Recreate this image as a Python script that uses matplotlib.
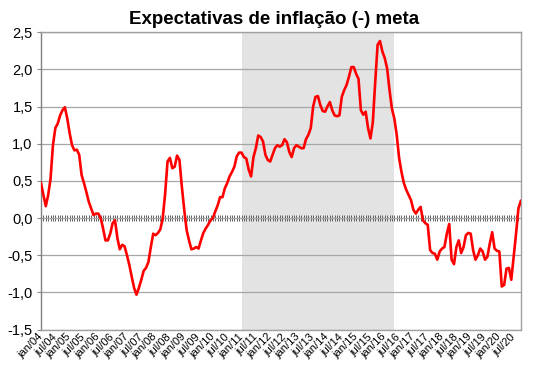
import numpy as np
import matplotlib
matplotlib.use("Agg")
import matplotlib.pyplot as plt
import matplotlib.transforms as mtransforms

plt.rcParams["font.family"] = ["Liberation Sans", "DejaVu Sans"]

# monthly categories jan/04 .. oct/20
month_abbr = ["jan", "fev", "mar", "abr", "mai", "jun",
              "jul", "ago", "set", "out", "nov", "dez"]
months = [f"{m}/{y:02d}" for y in range(4, 21) for m in month_abbr][:202]

# expectations minus target (p.p.)
gap = [
    0.47, 0.31, 0.16, 0.31, 0.53, 0.98, 1.21, 1.27, 1.38, 1.45, 1.49, 1.34,
    1.14, 0.98, 0.91, 0.92, 0.85, 0.58, 0.47, 0.35, 0.22, 0.13, 0.04, 0.06,
    0.06, 0.00, -0.14, -0.30, -0.30, -0.21, -0.07, -0.03, -0.27, -0.42, -0.36, -0.38,
    -0.50, -0.63, -0.79, -0.94, -1.03, -0.94, -0.83, -0.71, -0.67, -0.59, -0.39, -0.21,
    -0.23, -0.20, -0.15, 0.00, 0.33, 0.76, 0.81, 0.67, 0.69, 0.84, 0.78, 0.42,
    0.11, -0.16, -0.30, -0.42, -0.41, -0.39, -0.41, -0.30, -0.20, -0.14, -0.09, -0.03,
    0.00, 0.09, 0.17, 0.28, 0.28, 0.40, 0.47, 0.56, 0.62, 0.69, 0.83, 0.88,
    0.88, 0.82, 0.80, 0.65, 0.56, 0.82, 0.94, 1.11, 1.09, 1.03, 0.85, 0.78,
    0.76, 0.85, 0.94, 0.98, 0.96, 0.98, 1.06, 1.02, 0.89, 0.82, 0.94, 0.98,
    0.96, 0.94, 0.94, 1.06, 1.12, 1.21, 1.50, 1.63, 1.64, 1.52, 1.44, 1.43,
    1.50, 1.56, 1.45, 1.38, 1.37, 1.38, 1.63, 1.72, 1.79, 1.90, 2.03, 2.03,
    1.94, 1.87, 1.45, 1.39, 1.43, 1.21, 1.07, 1.29, 1.83, 2.33, 2.38, 2.24,
    2.15, 2.01, 1.72, 1.47, 1.34, 1.12, 0.81, 0.62, 0.47, 0.38, 0.31, 0.24,
    0.11, 0.06, 0.11, 0.15, -0.03, -0.07, -0.09, -0.43, -0.47, -0.48, -0.56, -0.45,
    -0.41, -0.39, -0.21, -0.08, -0.56, -0.62, -0.39, -0.30, -0.47, -0.39, -0.23, -0.20,
    -0.21, -0.43, -0.56, -0.50, -0.41, -0.45, -0.56, -0.52, -0.34, -0.19, -0.41, -0.44,
    -0.45, -0.92, -0.90, -0.68, -0.67, -0.83, -0.52, -0.21, 0.13, 0.23,
]

# shaded period (jan/11 .. mai/16)
shade_from, shade_to = "jan/11", "mai/16"

y_ticks = [-1.5, -1.0, -0.5, 0.0, 0.5, 1.0, 1.5, 2.0, 2.5]
x_tick_labels = [m for m in months if m.startswith(("jan", "jul"))]

x = np.arange(len(gap))

fig = plt.figure(figsize=(5.49, 3.78), dpi=100)
ax = fig.add_axes([0.0747, 0.128, 0.874, 0.787])

ax.axvspan(months.index(shade_from), months.index(shade_to),
           color="#e3e3e3", lw=0, zorder=0)
ax.plot(x, gap, color="#ff0000", lw=1.9, zorder=3, solid_joinstyle="round")

ax.set_xlim(0, len(gap) - 1)
ax.set_ylim(-1.5, 2.5)
ax.set_yticks(y_ticks)
ax.set_yticklabels([f"{v:.1f}".replace(".", ",") for v in y_ticks], fontsize=10.5)
ax.yaxis.grid(True, color="#a6a6a6", lw=0.9)
ax.set_axisbelow(True)

ax.set_xticks([months.index(m) for m in x_tick_labels])
ax.set_xticklabels(x_tick_labels, fontsize=8, rotation=45,
                   ha="right", va="center", rotation_mode="anchor")
shift = mtransforms.ScaledTranslation(-11 / 100, -3 / 100, fig.dpi_scale_trans)
for lbl in ax.get_xticklabels():
    lbl.set_transform(lbl.get_transform() + shift)
ax.tick_params(axis="x", length=0, pad=4)
ax.tick_params(axis="y", length=3, color="#888888", pad=3)

for side in ["left", "right", "top", "bottom"]:
    ax.spines[side].set_color("#a0a0a0")
    ax.spines[side].set_linewidth(1.0)
ax.spines["left"].set_color("#808080")

# category axis crossing at zero, with a tick every month
zero_ax = ax.secondary_xaxis(1.5 / 4.0)
zero_ax.set_xticks(x)
zero_ax.tick_params(axis="x", direction="inout", length=5, width=0.7,
                    color="#606060", labelbottom=False, labeltop=False)
zero_ax.spines["bottom"].set_color("#808080")

fig.text(0.5, 0.97, "Expectativas de inflação (-) meta", ha="center", va="top",
         fontsize=13.5, fontweight="bold")

fig.savefig("out.png", dpi=100)
